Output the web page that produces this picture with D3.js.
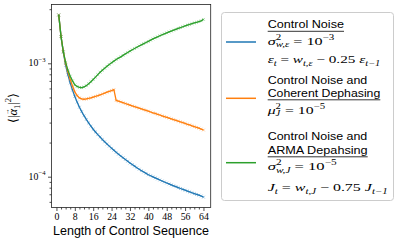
<!DOCTYPE html>
<html>
<head>
<meta charset="utf-8">
<script src="https://cdn.jsdelivr.net/npm/d3@7"></script>
<style>
  body { margin: 0; background: #fff; }
  svg { display: block; }
</style>
</head>
<body>
<svg id="chart" width="399" height="244"></svg>
<script>
// sequence lengths 1..64
const seqLengths = d3.range(1, 65);

// <|a_1|^2>, one value per sequence length
const controlNoise = [
  2.67e-3, 1.72e-3, 1.25e-3, 9.6e-4, 7.9e-4, 6.7e-4, 5.8e-4, 5.1e-4,
  4.55e-4, 4.1e-4, 3.75e-4, 3.45e-4, 3.2e-4, 2.98e-4, 2.79e-4, 2.62e-4,
  2.48e-4, 2.35e-4, 2.24e-4, 2.13e-4, 2.03e-4, 1.94e-4, 1.86e-4, 1.78e-4,
  1.71e-4, 1.64e-4, 1.58e-4, 1.52e-4, 1.47e-4, 1.42e-4, 1.37e-4, 1.32e-4,
  1.28e-4, 1.24e-4, 1.2e-4, 1.165e-4, 1.13e-4, 1.1e-4, 1.07e-4, 1.04e-4,
  1.02e-4, 9.98e-5, 9.76e-5, 9.55e-5, 9.35e-5, 9.16e-5, 8.98e-5, 8.8e-5,
  8.63e-5, 8.47e-5, 8.31e-5, 8.16e-5, 8.01e-5, 7.87e-5, 7.73e-5, 7.6e-5,
  7.47e-5, 7.34e-5, 7.22e-5, 7.1e-5, 6.98e-5, 6.87e-5, 6.76e-5, 6.6e-5
];
const coherentDephasing = [
  2.67e-3, 1.72e-3, 1.26e-3, 1.0e-3, 8.4e-4, 7.2e-4, 6.3e-4, 5.6e-4,
  5.2e-4, 4.95e-4, 4.85e-4, 4.82e-4, 4.85e-4, 4.9e-4, 4.96e-4, 5.03e-4,
  5.1e-4, 5.18e-4, 5.27e-4, 5.36e-4, 5.46e-4, 5.56e-4, 5.65e-4, 5.75e-4,
  5.85e-4, 4.7e-4, 4.63e-4, 4.56e-4, 4.49e-4, 4.42e-4, 4.35e-4, 4.28e-4,
  4.21e-4, 4.15e-4, 4.08e-4, 4.02e-4, 3.96e-4, 3.9e-4, 3.84e-4, 3.78e-4,
  3.72e-4, 3.66e-4, 3.61e-4, 3.55e-4, 3.5e-4, 3.44e-4, 3.39e-4, 3.34e-4,
  3.29e-4, 3.24e-4, 3.19e-4, 3.14e-4, 3.09e-4, 3.04e-4, 3.0e-4, 2.95e-4,
  2.9e-4, 2.86e-4, 2.81e-4, 2.77e-4, 2.72e-4, 2.68e-4, 2.63e-4, 2.58e-4
];
const armaDephasing = [
  2.67e-3, 1.72e-3, 1.27e-3, 1.02e-3, 8.7e-4, 7.7e-4, 7.0e-4, 6.45e-4,
  6.25e-4, 6.12e-4, 6.1e-4, 6.18e-4, 6.35e-4, 6.6e-4, 6.88e-4, 7.2e-4,
  7.55e-4, 7.95e-4, 8.35e-4, 8.7e-4, 9.05e-4, 9.4e-4, 9.75e-4, 1.01e-3,
  1.045e-3, 1.08e-3, 1.11e-3, 1.14e-3, 1.175e-3, 1.21e-3, 1.245e-3, 1.28e-3,
  1.315e-3, 1.35e-3, 1.385e-3, 1.42e-3, 1.455e-3, 1.49e-3, 1.525e-3, 1.56e-3,
  1.6e-3, 1.64e-3, 1.675e-3, 1.71e-3, 1.75e-3, 1.785e-3, 1.82e-3, 1.855e-3,
  1.89e-3, 1.925e-3, 1.96e-3, 1.995e-3, 2.03e-3, 2.065e-3, 2.1e-3, 2.135e-3,
  2.17e-3, 2.2e-3, 2.235e-3, 2.27e-3, 2.3e-3, 2.335e-3, 2.37e-3, 2.44e-3
];

const xTicks = [0, 8, 16, 24, 32, 40, 48, 56, 64];
const xMinorTicks = [2, 4, 6, 10, 12, 14, 18, 20, 22, 26, 28, 30, 34, 36, 38,
  42, 44, 46, 50, 52, 54, 58, 60, 62];
const yTicks = [1e-4, 1e-3];
const yTickExponents = ['\u22124', '\u22123'];
const yMinorTicks = [6e-5, 7e-5, 8e-5, 9e-5, 2e-4, 3e-4, 4e-4, 5e-4, 6e-4, 7e-4,
  8e-4, 9e-4, 2e-3, 3e-3];

const xLabel = 'Length of Control Sequence';
// o = drawn over the previous piece (vector arrow)
const yLabel = [['\u27e8|', 'r'], ['\u03b1', 'i'], ['\u2192', 'o'], ['1', 'sub'], ['|', 'r'], ['2', 'sup'], ['\u27e9', 'r']];

// legend text; math lines are lists of [text, kind] pieces
// kind: i = italic, r = roman, sup / sub = raised / lowered, s = stacked under previous sup
const legendTitles = [
  ['Control Noise'],
  ['Control Noise and', 'Coherent Dephasing'],
  ['Control Noise and', 'ARMA Depahsing']
];
const legendMath = [
  [
    [['\u03c3', 'i'], ['2', 'sup'], ['w,\u03b5', 's'], ['\u00a0=\u00a010', 'r'], ['\u22123', 'sup']],
    [['\u03b5', 'i'], ['t', 'sub'], ['\u00a0=\u00a0', 'r'], ['w', 'i'], ['t,\u03b5', 'sub'],
     ['\u00a0\u2212\u00a00.25\u00a0', 'r'], ['\u03b5', 'i'], ['t\u22121', 'sub']]
  ],
  [
    [['\u03bc', 'i'], ['2', 'sup'], ['J', 's'], ['\u00a0=\u00a010', 'r'], ['\u22125', 'sup']]
  ],
  [
    [['\u03c3', 'i'], ['2', 'sup'], ['w,J', 's'], ['\u00a0=\u00a010', 'r'], ['\u22125', 'sup']],
    [['J', 'i'], ['t', 'sub'], ['\u00a0=\u00a0', 'r'], ['w', 'i'], ['t,J', 'sub'],
     ['\u00a0\u2212\u00a00.75\u00a0', 'r'], ['J', 'i'], ['t\u22121', 'sub']]
  ]
];

const series = [
  { name: 'controlNoise', values: controlNoise, color: '#1f77b4' },
  { name: 'coherentDephasing', values: coherentDephasing, color: '#ff7f0e' },
  { name: 'armaDephasing', values: armaDephasing, color: '#2ca02c' }
];

const serif = '"Liberation Serif", "DejaVu Serif", serif';
const sans = '"Liberation Sans", "DejaVu Sans", sans-serif';

const svg = d3.select('#chart');
const plot = { left: 51.5, right: 210.7, top: 4.5, bottom: 207.5 };

const x = d3.scaleLinear().domain([-2.15, 67.15]).range([plot.left, plot.right]);
const y = d3.scaleLog().domain([5.35e-5, 3.3e-3]).range([plot.bottom, plot.top]);

// lay out a math line as one <text> with positioned tspans, returns its width
function drawMath(g, pieces, size) {
  const txt = g.append('text')
    .attr('font-family', serif)
    .attr('fill', '#000');
  let cx = 0, lastX = 0, lastW = 0;
  pieces.forEach(([t, kind]) => {
    const small = kind === 'sup' || kind === 'sub' || kind === 's';
    let fs = small ? size * 0.68 : size;
    let dy = kind === 'sup' ? -size * 0.45 : (kind === 'sub' || kind === 's') ? size * 0.27 : 0;
    let px = kind === 's' ? lastX : cx;
    if (kind === 'o') { fs = size * 0.55; dy = -size * 0.62; px = lastX + lastW * 0.1; }
    const italic = (kind === 'i' || kind === 'sub' || kind === 's' || kind === 'sup') &&
      !/^[\u22120-9]+$/.test(t);
    const span = txt.append('tspan')
      .attr('x', px).attr('y', dy)
      .attr('font-style', italic ? 'italic' : 'normal')
      .attr('font-size', fs)
      .text(t);
    const w = span.node().getComputedTextLength();
    if (kind === 'o') return;
    if (kind === 's') cx = Math.max(cx, px + w);
    else { lastX = px; lastW = w; cx = px + w; }
  });
  return cx;
}

// ---- axes
const xAxis = svg.append('g')
  .attr('transform', `translate(0,${plot.bottom})`)
  .call(d3.axisBottom(x).tickValues(xTicks).tickSize(3.5).tickPadding(2).tickFormat(d => d));
svg.append('g')
  .attr('transform', `translate(0,${plot.bottom})`)
  .call(d3.axisBottom(x).tickValues(xMinorTicks).tickSize(2).tickFormat(''));

svg.append('g')
  .attr('transform', `translate(${plot.left},0)`)
  .call(d3.axisLeft(y).tickValues(yTicks).tickSize(3.5).tickFormat(''));
svg.append('g')
  .attr('transform', `translate(${plot.left},0)`)
  .call(d3.axisLeft(y).tickValues(yMinorTicks).tickSize(2).tickFormat(''));

svg.selectAll('.domain').remove();
svg.selectAll('.tick line').attr('stroke', '#222').attr('stroke-width', 0.8);
xAxis.selectAll('.tick text')
  .attr('font-family', serif).attr('font-size', 9.8).attr('fill', '#000');

// y tick labels 10^n
yTicks.forEach((v, i) => {
  const g = svg.append('g');
  const w = drawMath(g, [['10', 'r'], [yTickExponents[i], 'sup']], 9.8);
  g.attr('transform', `translate(${45.5 - w},${y(v) + 3.2})`);
});

// ---- series
const line = d3.line()
  .x((d, i) => x(seqLengths[i]))
  .y(d => y(d));

series.forEach(s => {
  const g = svg.append('g').attr('class', s.name);
  g.selectAll('path.mark')
    .data(s.values)
    .join('path')
    .attr('class', 'mark')
    .attr('transform', (d, i) => `translate(${x(seqLengths[i])},${y(d)})`)
    .attr('d', 'M-1.4,-1.4L1.4,1.4M-1.4,1.4L1.4,-1.4')
    .attr('stroke', s.color)
    .attr('stroke-width', 0.7)
    .attr('opacity', 0.55);
  g.append('path')
    .datum(s.values)
    .attr('fill', 'none')
    .attr('stroke', s.color)
    .attr('stroke-width', 1.3)
    .attr('d', line);
});

// frame
svg.append('rect')
  .attr('x', plot.left).attr('y', plot.top)
  .attr('width', plot.right - plot.left).attr('height', plot.bottom - plot.top)
  .attr('fill', 'none').attr('stroke', '#222').attr('stroke-width', 0.8);

// ---- axis labels
svg.append('text')
  .attr('x', 131).attr('y', 234.5)
  .attr('text-anchor', 'middle')
  .attr('font-family', sans).attr('font-size', 12.5).attr('fill', '#000')
  .attr('textLength', 156).attr('lengthAdjust', 'spacingAndGlyphs')
  .text(xLabel);

{
  const g = svg.append('g');
  const inner = g.append('g');
  const w = drawMath(inner, yLabel, 12.5);
  inner.attr('transform', `translate(${-w / 2},0)`);
  g.attr('transform', 'translate(16.5,108) rotate(-90)');
}

// ---- legend
svg.append('rect')
  .attr('x', 221.5).attr('y', 12.5)
  .attr('width', 172).attr('height', 188)
  .attr('rx', 3)
  .attr('fill', '#fff').attr('stroke', '#ccc').attr('stroke-width', 1);

const handleY = [42, 98.3, 162.7];
const titleY = [[28], [84, 96.5], [140, 153.5]];
const titleW = [[76.3], [99.6, 112.6], [99.6, 100]];
const mathY = [[44.5, 63], [113.5], [170, 191]];
const mathW = [[66.6, 112.6], [57.3], [69, 120]];
const textX = 267.7;

series.forEach((s, k) => {
  svg.append('line')
    .attr('x1', 226).attr('x2', 256)
    .attr('y1', handleY[k]).attr('y2', handleY[k])
    .attr('stroke', s.color).attr('stroke-width', 1.5);

  const title = svg.append('text')
    .attr('font-family', sans).attr('font-size', 10.8).attr('fill', '#000');
  legendTitles[k].forEach((t, j) => {
    title.append('tspan')
      .attr('x', textX).attr('y', titleY[k][j])
      .attr('textLength', titleW[k][j]).attr('lengthAdjust', 'spacingAndGlyphs')
      .text(t);
  });
  const last = legendTitles[k].length - 1;
  svg.append('line')
    .attr('x1', textX).attr('x2', textX + titleW[k][last])
    .attr('y1', titleY[k][last] + 3.3).attr('y2', titleY[k][last] + 3.3)
    .attr('stroke', '#000').attr('stroke-width', 0.8);

  legendMath[k].forEach((pieces, j) => {
    const g = svg.append('g').attr('transform', `translate(${textX},${mathY[k][j]})`);
    const inner = g.append('g');
    const w = drawMath(inner, pieces, 10.8);
    inner.attr('transform', `scale(${mathW[k][j] / w},1)`);
  });
});
</script>
</body>
</html>
